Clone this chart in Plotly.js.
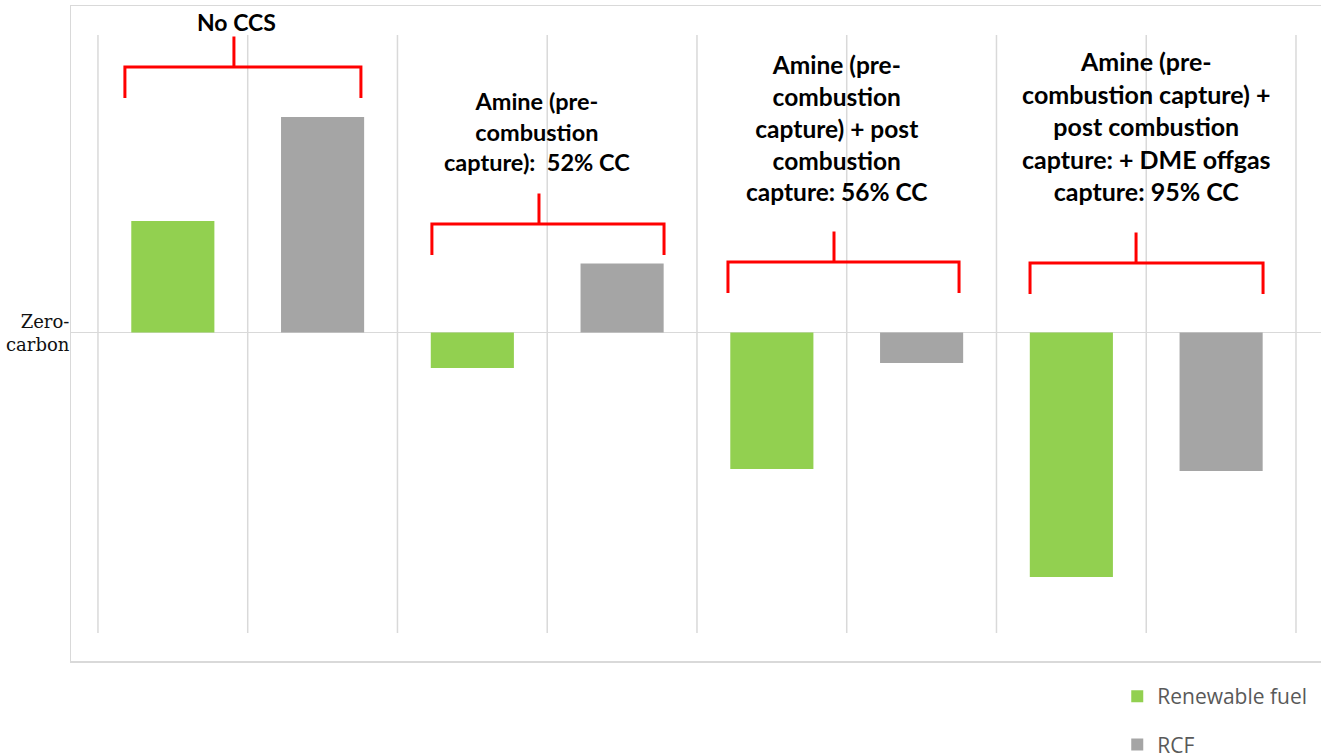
<!DOCTYPE html>
<html><head><meta charset="utf-8">
<script src="https://cdn.plot.ly/plotly-3.0.1.min.js"></script>
<style>html,body{margin:0;padding:0;background:#fff}#chart{width:1321px;height:755px}</style>
</head><body><div id="chart"></div>
<script>
// ---- data (relative emissions, arbitrary units; 0 = zero-carbon) ----
const scenarios = [
  'No CCS',
  'Amine (pre-<br>combustion<br>capture):  52% CC',
  'Amine (pre-<br>combustion<br>capture) + post<br>combustion<br>capture: 56% CC',
  'Amine (pre-<br>combustion capture) +<br>post combustion<br>capture: + DME offgas<br>capture: 95% CC'
];
const seriesNames = ['Renewable fuel', 'RCF'];
const renewableFuel = [44.6, -14.2, -54.6, -97.8];
const rcf = [86.2, 27.6, -12.2, -55.4];
const zeroLabel = 'Zero-<br>carbon';

// ---- layout helpers (positions / styles) ----
const nCat = scenarios.length * 2;
const xGreen = scenarios.map((s, i) => 2 * i);
const xGray = scenarios.map((s, i) => 2 * i + 1);

const bracketLeft  = [-0.320, 1.730, 3.707, 5.724];
const bracketRight = [1.256, 3.280, 5.250, 7.280];
const bracketTick  = [0.408, 2.445, 4.415, 6.432];
const bracketY     = [106.2, 43.4, 28.2, 27.8];
const legDrop = 12.4, tickRise = 12.2;
const labelX = [0.428, 2.432, 4.435, 6.505];
const labelY = [124.2, 80.4, 82.0, 82.8];
const labelSize = [23, 23.5, 24.5, 25];
const gridTop = 119, gridBottom = -120.2;

const shapes = [];
for (let k = 0; k <= nCat; k++) {
  shapes.push({type: 'line', xref: 'x', yref: 'y', x0: k - 0.5, x1: k - 0.5,
    y0: gridBottom, y1: gridTop, line: {color: '#d9d9d9', width: 1.5}, layer: 'below'});
}
scenarios.forEach((s, i) => {
  const yb = bracketY[i];
  shapes.push({type: 'path', xref: 'x', yref: 'y',
    path: `M ${bracketLeft[i]} ${yb - legDrop} L ${bracketLeft[i]} ${yb} L ${bracketRight[i]} ${yb} L ${bracketRight[i]} ${yb - legDrop}`,
    line: {color: '#ff0000', width: 3}});
  shapes.push({type: 'line', xref: 'x', yref: 'y', x0: bracketTick[i], x1: bracketTick[i],
    y0: yb, y1: yb + tickRise, line: {color: '#ff0000', width: 3}});
});

const annotations = scenarios.map((s, i) => ({
  xref: 'x', yref: 'y', x: labelX[i], y: labelY[i], text: s, showarrow: false,
  xanchor: 'center', yanchor: 'middle', align: 'center',
  font: {family: 'Lato', size: labelSize[i], weight: 700, color: '#000'}
}));
annotations.push({xref: 'paper', yref: 'y', x: 0, y: 0, text: zeroLabel, showarrow: false,
  xanchor: 'right', yanchor: 'middle', align: 'right', borderpad: 0,
  font: {family: 'DejaVu Serif', size: 18, color: '#111'}});

const traces = [
  {type: 'bar', name: seriesNames[0], x: xGreen, y: renewableFuel, width: 0.555,
   marker: {color: '#92D050', line: {width: 0}}, legendgroup: 'a'},
  {type: 'bar', name: seriesNames[1], x: xGray, y: rcf, width: 0.555,
   marker: {color: '#A5A5A5', line: {width: 0}}, legendgroup: 'b'}
];

const layout = {
  width: 1321, height: 755,
  margin: {l: 71, r: 0, t: 6, b: 94, autoexpand: false},
  paper_bgcolor: '#fff', plot_bgcolor: '#fff',
  barmode: 'overlay',
  xaxis: {range: [-0.68, 7.667], showgrid: false, zeroline: false, showticklabels: false,
    showline: true, mirror: true, linecolor: '#d9d9d9', linewidth: 1.5, fixedrange: true},
  yaxis: {range: [-131.4, 130.6], showgrid: false, zeroline: true, zerolinecolor: '#d9d9d9',
    zerolinewidth: 1.5, showticklabels: false, showline: true, linecolor: '#d9d9d9', linewidth: 1.5,
    fixedrange: true},
  showlegend: true,
  legend: {orientation: 'v', x: 0.837, xanchor: 'left', y: -0.023, yanchor: 'top',
    traceorder: 'grouped', tracegroupgap: 18, bgcolor: 'rgba(0,0,0,0)',
    font: {family: 'Open Sans', size: 21, color: '#595959'}},
  shapes: shapes,
  annotations: annotations,
  hovermode: false
};

Plotly.newPlot('chart', traces, layout, {staticPlot: true, displayModeBar: false});
</script></body></html>
